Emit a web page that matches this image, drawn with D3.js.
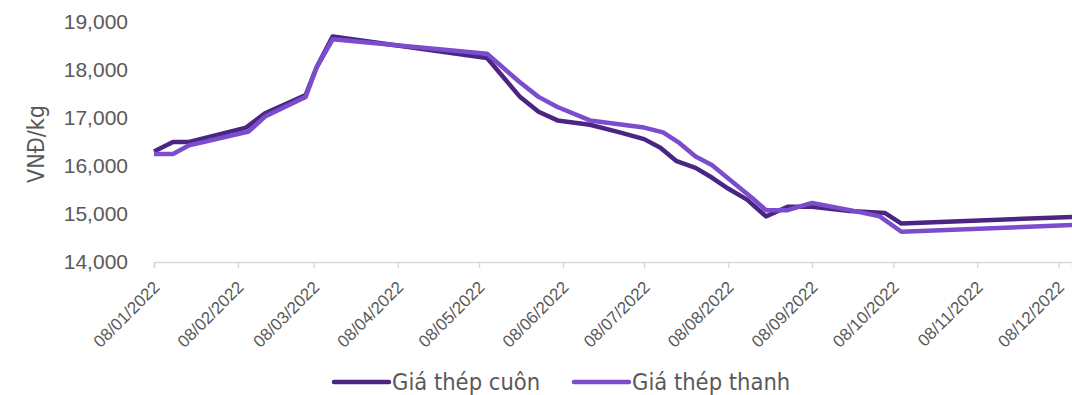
<!DOCTYPE html>
<html><head><meta charset="utf-8">
<script src="https://cdn.jsdelivr.net/npm/d3@7"></script>
<style>
html,body{margin:0;padding:0;background:#fff;}
svg{display:block;font-family:"DejaVu Sans Condensed","DejaVu Sans",sans-serif;font-stretch:condensed;}
</style></head>
<body>
<svg id="chart" width="1072" height="395"></svg>
<script>
// Series names
const seriesNames = ["Giá thép cuôn", "Giá thép thanh"];

// Giá thép cuôn (coil steel)
const coilDates = ["2022-01-08","2022-01-15","2022-01-21","2022-02-11","2022-02-18","2022-03-05","2022-03-09","2022-03-15",
  "2022-05-11","2022-05-23","2022-05-30","2022-06-06","2022-06-18","2022-06-29","2022-07-08","2022-07-14","2022-07-20",
  "2022-07-27","2022-08-02","2022-08-08","2022-08-15","2022-08-22","2022-08-30","2022-09-08","2022-09-22","2022-10-05",
  "2022-10-11","2022-12-13"];
const coilValues = [16300,16500,16500,16800,17100,17480,18050,18700,
  18250,17450,17130,16950,16860,16700,16560,16380,16100,
  15960,15760,15530,15300,14950,15150,15150,15060,15020,
  14800,14940];

// Giá thép thanh (rebar steel)
const barDates = ["2022-01-08","2022-01-15","2022-01-21","2022-02-12","2022-02-18","2022-03-05","2022-03-09","2022-03-15",
  "2022-05-11","2022-05-23","2022-05-30","2022-06-06","2022-06-18","2022-07-08","2022-07-15","2022-07-21","2022-07-27",
  "2022-08-02","2022-08-10","2022-08-17","2022-08-22","2022-08-30","2022-09-08","2022-09-22","2022-10-03","2022-10-11",
  "2022-12-13"];
const barValues = [16250,16250,16430,16720,17030,17440,18050,18640,
  18340,17750,17440,17230,16950,16800,16700,16480,16200,
  16020,15650,15330,15080,15080,15230,15080,14950,14630,
  14770];

// Axis ticks
const yTicks = [14000,15000,16000,17000,18000,19000];
const xTickDates = ["2022-01-08","2022-02-08","2022-03-08","2022-04-08","2022-05-08","2022-06-08",
  "2022-07-08","2022-08-08","2022-09-08","2022-10-08","2022-11-08","2022-12-08"];
const xTickLabels = ["08/01/2022","08/02/2022","08/03/2022","08/04/2022","08/05/2022","08/06/2022",
  "08/07/2022","08/08/2022","08/09/2022","08/10/2022","08/11/2022","08/12/2022"];
const yTitle = "VNĐ/kg";

const colors = ["#4b2583", "#7b4ccb"];

const parse = d3.utcParse("%Y-%m-%d");
const svg = d3.select("#chart");

const x = d3.scaleUtc().domain([parse("2022-01-08"), parse("2022-12-13")]).range([154, 1072]);
const y = d3.scaleLinear().domain([14000, 19000]).range([262, 22]);

// Y axis labels
const yAxis = d3.axisLeft(y).tickValues(yTicks).tickFormat(d3.format(",")).tickSize(0).tickPadding(0);
const gy = svg.append("g").attr("transform", "translate(128,0)").call(yAxis);
gy.select(".domain").remove();
gy.selectAll("text").attr("font-size", 21).attr("fill", "#595959").attr("font-family", "inherit");

// X axis
const tickMap = new Map(xTickDates.map((d, i) => [+parse(d), xTickLabels[i]]));
const xAxis = d3.axisBottom(x).tickValues(xTickDates.map(parse)).tickSize(6).tickFormat(d => tickMap.get(+d));
const gx = svg.append("g").attr("transform", "translate(0,262)").call(xAxis);
gx.select(".domain").attr("stroke", "#d9d9d9").attr("stroke-width", 1.5);
gx.selectAll(".tick line").attr("stroke", "#d9d9d9").attr("stroke-width", 1.5);
gx.selectAll(".tick text")
  .attr("font-size", 17).attr("fill", "#595959").attr("font-family", "inherit")
  .attr("text-anchor", "end").attr("dy", "0.35em")
  .attr("transform", "translate(2,22) rotate(-45)").attr("y", 0).attr("x", 0);

// Y title
svg.append("text").attr("transform", "translate(44,144) rotate(-90)")
  .attr("text-anchor", "middle").attr("font-size", 23).attr("fill", "#595959").text(yTitle);

// Lines
const line = d3.line().x(d => x(d[0])).y(d => y(d[1]));
const series = [
  coilDates.map((d, i) => [parse(d), coilValues[i]]),
  barDates.map((d, i) => [parse(d), barValues[i]])
];
series.forEach((s, i) => {
  svg.append("path").datum(s).attr("d", line).attr("fill", "none")
    .attr("stroke", colors[i]).attr("stroke-width", 4.5).attr("stroke-linejoin", "round").attr("stroke-linecap", "butt");
});

// Legend
const legendX = [334, 574];
seriesNames.forEach((n, i) => {
  const g = svg.append("g").attr("transform", `translate(${legendX[i]},382)`);
  g.append("line").attr("x1", 0).attr("x2", 55).attr("stroke", colors[i]).attr("stroke-width", 4.5).attr("stroke-linecap", "round");
  g.append("text").attr("x", 58).attr("y", 0).attr("dy", "0.32em").attr("font-size", 23.5).attr("fill", "#595959").text(n);
});
</script>
</body></html>
